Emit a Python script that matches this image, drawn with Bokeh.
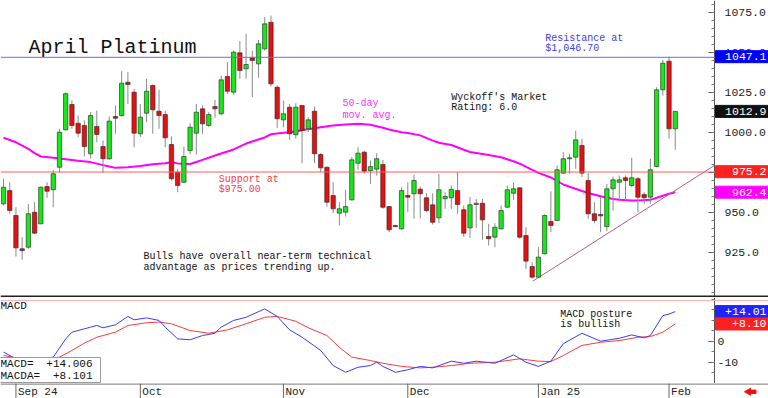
from math import pi
from bokeh.plotting import figure
from bokeh.layouts import column
from bokeh.models import (ColumnDataSource, FixedTicker, NumeralTickFormatter,
                          Range1d, Span, LinearAxis)
from bokeh.core.properties import value
from bokeh.embed import file_html
from bokeh.resources import INLINE

MONO = "Liberation Mono"

# ---------------- data ----------------
opens = [955.1, 963.4, 947.8, 927.0, 928.0, 949.9, 942.6, 965.9, 963.9, 978.0,
         1001.4, 1017.2, 1005.5, 1004.1, 986.4, 1003.5, 990.9, 983.3, 1009.7, 1010.3,
         1031.1, 1024.9, 998.9, 1011.8, 1029.1, 1013.0, 1010.9, 992.2, 974.9, 968.6,
         988.4, 999.3, 1014.5, 1004.1, 1015.9, 1011.4, 1034.7, 1024.9, 1049.5, 1039.5,
         1046.4, 1042.6, 1052.0, 1068.6, 1028.0, 1007.6, 1015.5, 998.3, 1016.6, 1002.0,
         1013.0, 985.9, 978.0, 960.3, 949.3, 949.9, 957.6, 980.5, 987.4, 975.9,
         976.8, 979.7, 953.4, 941.5, 939.5, 960.3, 961.4, 964.3, 958.9, 954.5,
         946.4, 958.3, 958.9, 963.4, 951.4, 940.1, 954.7, 955.5, 934.7, 934.3,
         939.5, 953.0, 961.8, 965.1, 935.3, 915.9, 909.3, 923.9, 944.1, 944.7,
         974.3, 983.3, 984.3, 991.6, 969.7, 948.9, 948.5, 940.9, 964.5, 968.6,
         971.4, 966.6, 970.8, 960.9, 959.3, 978.4, 1026.4, 1044.3, 1002.0]
highs = [970.8, 968.6, 953.0, 934.3, 955.1, 956.2, 965.9, 968.6, 976.4, 1002.0,
         1024.9, 1019.7, 1010.3, 1007.2, 1012.4, 1013.4, 994.7, 1009.7, 1016.6, 1038.0,
         1037.4, 1027.0, 1017.6, 1033.3, 1029.7, 1026.4, 1013.4, 997.2, 977.0, 990.9,
         1005.5, 1017.6, 1016.6, 1012.4, 1020.1, 1035.3, 1043.6, 1050.9, 1056.8, 1061.4,
         1050.9, 1057.6, 1071.8, 1072.8, 1029.1, 1019.7, 1017.6, 1018.0, 1016.6, 1009.3,
         1015.9, 986.8, 978.4, 968.6, 956.1, 963.9, 984.3, 990.5, 988.4, 982.2,
         986.8, 982.6, 953.4, 942.0, 965.5, 968.6, 973.4, 966.0, 961.7, 961.7,
         973.9, 962.4, 966.6, 974.9, 954.1, 959.3, 958.2, 958.2, 942.6, 943.0,
         954.1, 966.6, 968.6, 965.5, 940.5, 918.6, 928.0, 948.5, 963.0, 979.1,
         987.4, 986.4, 1000.9, 995.8, 974.3, 956.2, 959.3, 967.6, 972.2, 972.8,
         972.8, 983.9, 971.8, 962.4, 983.3, 1028.0, 1045.1, 1047.1, 1013.0]
lows = [954.1, 948.9, 922.2, 920.1, 927.0, 936.4, 942.6, 958.9, 953.0, 974.9,
        1000.9, 1002.0, 996.8, 984.7, 983.3, 993.6, 974.3, 982.6, 998.9, 1009.7,
        1017.6, 990.5, 997.0, 1006.1, 998.9, 1002.0, 990.5, 969.7, 962.4, 968.0,
        986.0, 986.0, 998.9, 1003.0, 1008.9, 1010.3, 1023.9, 1023.4, 1033.3, 1033.3,
        1021.8, 1033.9, 1050.9, 1028.4, 1002.6, 1003.0, 995.1, 995.8, 980.5, 999.9,
        980.5, 974.9, 953.4, 949.3, 941.6, 947.2, 957.2, 976.4, 973.9, 967.6,
        972.8, 952.0, 937.4, 940.5, 938.9, 949.9, 945.8, 946.0, 949.9, 942.2,
        943.0, 952.0, 952.0, 948.9, 934.3, 933.9, 940.1, 932.6, 929.1, 928.0,
        938.9, 952.6, 957.6, 933.3, 914.5, 908.3, 909.3, 923.5, 937.4, 944.3,
        973.9, 973.9, 977.0, 971.8, 945.8, 943.0, 937.4, 938.0, 950.9, 957.2,
        957.2, 965.5, 949.9, 955.1, 955.1, 978.0, 1022.8, 995.8, 988.9]
closes = [965.5, 950.9, 927.6, 925.9, 948.9, 936.8, 965.5, 963.0, 973.9, 999.9,
          1023.9, 1004.1, 999.3, 990.9, 1010.3, 998.5, 983.3, 1006.8, 1008.6, 1030.5,
          1029.7, 999.3, 1009.3, 1025.5, 1013.9, 1010.3, 996.4, 970.8, 966.6, 984.7,
          1003.0, 1012.4, 1005.1, 1010.9, 1014.5, 1032.6, 1025.5, 1049.9, 1038.4, 1042.2,
          1044.7, 1055.1, 1067.6, 1030.1, 1008.3, 1011.4, 998.9, 1015.5, 1001.0, 1007.6,
          986.4, 977.6, 956.1, 952.0, 952.0, 953.4, 982.6, 986.8, 975.5, 978.4,
          983.3, 953.0, 938.9, 940.9, 963.4, 959.3, 969.7, 961.4, 950.9, 943.6,
          963.9, 959.7, 964.1, 954.7, 936.8, 954.5, 955.5, 945.1, 933.3, 940.5,
          950.9, 963.9, 964.5, 934.3, 919.3, 909.3, 921.8, 947.8, 941.6, 976.4,
          983.3, 983.9, 995.1, 974.3, 948.9, 944.7, 947.6, 964.5, 970.1, 970.1,
          969.7, 971.4, 959.3, 958.9, 976.4, 1026.4, 1043.0, 1002.0, 1012.9]

# 50-day moving average (trading-day index, value)
ma_idx = [0, 2, 4, 5, 6, 8, 10, 12, 14, 16, 17, 18, 20, 22, 24, 26, 27, 28, 30, 31,
          32, 34, 36, 37, 39, 40, 42, 43, 45, 46, 48, 49, 51, 53, 55, 57, 59, 61, 62, 64,
          65, 67, 69, 70, 72, 74, 75, 78, 80, 82, 83, 85, 86, 88, 90, 91, 93, 94, 96, 98,
          99, 101, 102, 104, 106, 107, 108]
ma_val = [996.4, 993.6, 989.5, 986.8, 984.7, 983.9, 983.0, 982.0, 981.2, 979.3, 978.5,
          977.6, 978.0, 978.8, 979.9, 980.5, 981.1, 980.4, 980.0, 981.3, 982.6, 985.3,
          987.8, 989.1, 992.8, 994.1, 996.6, 998.6, 999.6, 999.9, 1001.1, 1001.8, 1003.0,
          1004.1, 1004.7, 1005.1, 1004.5, 1002.7, 1001.6, 999.8, 999.4, 997.9, 994.6,
          993.3, 991.9, 988.9, 987.5, 985.6, 984.2, 981.7, 980.2, 976.3, 974.5, 971.6,
          967.2, 965.8, 963.1, 961.9, 959.9, 958.1, 957.7, 957.2, 957.2, 957.6, 960.2,
          961.4, 962.4]

# MACD (blue) and its average (red)
macd_idx = [0, 2, 5, 8, 10, 11, 12, 14, 15, 16, 18, 20, 21, 23, 25, 26, 28, 30, 32, 34,
            35, 37, 39, 42, 44, 46, 48, 51, 53, 55, 57, 59, 60, 61, 63, 65, 67, 69, 72, 74,
            76, 79, 82, 84, 86, 88, 90, 93, 96, 99, 101, 103, 104, 106, 107, 108]
macd_val = [-5.3, -8.5, -9.5, -7.7, 1.0, 4.2, 5.0, 6.6, 7.4, 6.3, 7.7, 11.7, 10.1, 11.0,
            9.8, 6.6, 1.0, 0.6, 2.6, 3.7, 6.6, 9.8, 11.3, 15.3, 11.7, 5.3, 1.8, -4.5,
            -11.7, -14.9, -12.5, -11.7, -10.1, -12.1, -14.9, -13.7, -12.1, -12.8, -9.6,
            -10.6, -9.6, -10.6, -6.6, -10.1, -12.1, -9.6, -1.3, 3.7, -0.1, 1.3, 2.9, 1.5,
            2.6, 12.1, 12.8, 14.006]
sig_idx = [0, 4, 9, 11, 13, 15, 18, 20, 23, 25, 27, 30, 33, 36, 39, 42, 44, 47, 49, 52,
           54, 56, 59, 61, 64, 67, 69, 72, 75, 79, 83, 86, 88, 90, 93, 96, 99, 102, 104,
           106, 108]
sig_val = [-6.9, -9.0, -7.7, -4.5, -1.0, 1.8, 4.2, 7.4, 8.7, 9.0, 8.2, 5.0, 3.7, 5.3, 8.2,
           11.3, 11.7, 9.4, 6.3, 2.6, -3.0, -7.7, -9.3, -10.6, -12.1, -12.8, -12.5, -11.7,
           -10.6, -10.1, -8.5, -9.6, -9.8, -6.9, -2.1, -0.6, 0.2, 1.8, 2.1, 4.2, 8.101]

month_idx = [2, 22, 45, 65, 86, 107]
month_labels = ["Sep 24", "Oct", "Nov", "Dec", "Jan 25", "Feb"]
price_ticks = [925, 950, 975, 1000, 1025, 1050, 1075]
price_minor = [900 + 5 * k for k in range(37)]
macd_ticks = [-10, 0]
macd_minor = [-20, -15, -10, -5, 0, 5, 10, 15, 20]

resistance = 1046.7
resistance_tag = 1047.1
support = 975.0
support_tag = 975.2
trend_idx = [85.1, 114.3]
trend_val = [906.8, 979.1]

# ---------------- layout constants ----------------
W = 768
PX = 6.22                      # pixels per trading day
X0 = -3 / PX                   # left edge of the page
X1 = X0 + 714 / PX             # position of the price axis
X_EDGE = X0 + W / PX           # right edge of the page
PY = 1.6                       # price panel: pixels per dollar
MY = 2.1                       # macd panel: pixels per unit

n = len(closes)
idx = list(range(n))
up = [c >= o for o, c in zip(opens, closes)]
src = ColumnDataSource(dict(
    x=idx, high=highs, low=lows,
    top=[max(o, c) for o, c in zip(opens, closes)],
    bottom=[min(o, c) for o, c in zip(opens, closes)],
    color=["#18e818" if u else "#e81010" for u in up],
))

xr = Range1d(X0, X_EDGE)


def base_fig(h, yr):
    f = figure(width=W, height=h, x_range=xr, y_range=yr, output_backend="svg",
               toolbar_location=None, x_axis_location=None, y_axis_location=None,
               min_border_left=0, min_border_right=0, min_border_top=0,
               min_border_bottom=0)
    f.outline_line_color = None
    f.grid.visible = False
    return f


def style_axis(ax):
    ax.major_tick_in = 6
    ax.major_tick_out = 0
    ax.minor_tick_in = 3
    ax.minor_tick_out = 0
    ax.axis_line_color = "#555555"
    ax.major_tick_line_color = "#555555"
    ax.minor_tick_line_color = "#777777"
    ax.major_label_text_font = MONO
    ax.major_label_text_font_size = "11.5px"
    ax.major_label_text_color = "#222222"


def tag(fig, yv, text, bg, unit):
    r = fig.rect(x=[(X1 + X_EDGE) / 2 + 0.5 / PX], y=[yv], width=X_EDGE - X1 - 1 / PX,
                 height=12 / unit, fill_color=bg, line_color=bg)
    r.level = "overlay"
    t = fig.text(x=[X_EDGE - 2 / PX], y=[yv], text=[text], text_font=value(MONO),
                 text_font_size="11.5px", text_color="white", text_align="right",
                 text_baseline="middle")
    t.level = "overlay"


def txt(fig, x, y, lines, color, dy, size="10px"):
    fig.text(x=[x] * len(lines), y=[y - k * dy for k in range(len(lines))], text=lines,
             text_font=value(MONO), text_font_size=size, text_color=color,
             text_align="left", text_baseline="middle")


# ---------------- price panel ----------------
p = base_fig(297, Range1d(1082.2 - 297 / PY, 1082.2))
ya = LinearAxis(fixed_location=X1,
                ticker=FixedTicker(ticks=price_ticks, minor_ticks=price_minor),
                formatter=NumeralTickFormatter(format="0.0"))
style_axis(ya)
ya.major_label_standoff = 10
p.add_layout(ya, "right")

p.add_layout(Span(location=resistance, dimension="width", line_color="#6a6af2", line_width=1))
p.add_layout(Span(location=support, dimension="width", line_color="#ff5a5a", line_width=1))
p.add_layout(Span(location=1082.2 - 296 / PY, dimension="width", line_color="#222222",
                  line_width=2))

p.line(ma_idx, ma_val, line_color="#ff00ff", line_width=2)
p.line(trend_idx, trend_val, line_color="#b0608a", line_width=1)

p.segment(x0="x", y0="low", x1="x", y1="high", source=src, line_color="#8a8a8a", line_width=1)
p.vbar(x="x", width=0.7, top="top", bottom="bottom", source=src,
       fill_color="color", line_color="#202020", line_width=0.6)

p.text(x=[4.0], y=[1053.0], text=["April Platinum"], text_font=value(MONO),
       text_font_size="20px", text_color="#111111", text_align="left",
       text_baseline="alphabetic")
txt(p, 87.1, 1058.6, ["Resistance at", "$1,046.70"], "#4040f0", 6.2)
txt(p, 72.0, 1021.8, ["Wyckoff's Market", "Rating: 6.0"], "#111111", 6.2)
txt(p, 54.5, 1017.6, ["50-day", "mov. avg."], "#ff30ff", 7.3)
txt(p, 34.6, 970.1, ["Support at", "$975.00"], "#ff3c3c", 6.2)
txt(p, 22.5, 922.2, ["Bulls have overall near-term technical",
                     "advantage as prices trending up."], "#111111", 6.7)

tag(p, resistance_tag, f"{resistance_tag:.1f}", "#0000ff", PY)
tag(p, closes[-1], f"{closes[-1]:.1f}", "#111111", PY)
tag(p, support_tag, f"{support_tag:.1f}", "#ff2020", PY)
tag(p, ma_val[-1], f"{ma_val[-1]:.1f}", "#ff00ff", PY)

# ---------------- MACD panel ----------------
m_top = 43.5 / MY
m = base_fig(86, Range1d(m_top - 86 / MY, m_top))
mx = LinearAxis(fixed_location=X1,
                ticker=FixedTicker(ticks=macd_ticks, minor_ticks=macd_minor),
                major_label_overrides={0: "  0", -10: "-10"})
style_axis(mx)
mx.major_label_standoff = 3
m.add_layout(mx, "right")

m.add_layout(Span(location=m_top - 3 / MY, dimension="width", line_color="#ffb4b4",
                  line_width=1))
m.line(sig_idx, sig_val, line_color="#ff3a3a", line_width=1)
m.line(macd_idx, macd_val, line_color="#3b3bff", line_width=1)

m.quad(left=[X0 - 0.2], right=[X0 + 100 / PX], bottom=[m_top - 85 / MY],
       top=[m_top - 60 / MY], fill_color="white", line_color="#9a9a9a", line_width=1)
m.text(x=[X0, X0], y=[m_top - 66 / MY, m_top - 78 / MY], text=["MACD=", "MACDA="],
       text_font=value(MONO), text_font_size="11px", text_color="#111111",
       text_align="left", text_baseline="middle")
m.text(x=[X0 + 92 / PX] * 2, y=[m_top - 66 / MY, m_top - 78 / MY],
       text=[f"{macd_val[-1]:+.3f}", f"{sig_val[-1]:+.3f}"],
       text_font=value(MONO), text_font_size="11px", text_color="#111111",
       text_align="right", text_baseline="middle")
m.text(x=[X0], y=[m_top - 8 / MY], text=["MACD"], text_font=value(MONO),
       text_font_size="11px", text_color="#111111", text_align="left",
       text_baseline="middle")
txt(m, 89.5, 12.6, ["MACD posture", "is bullish"], "#111111", 4.8)

tag(m, macd_val[-1], f"{macd_val[-1]:+.2f}", "#2323ff", MY)
tag(m, sig_val[-1], f"{sig_val[-1]:+.2f}", "#ff2020", MY)

# ---------------- date strip ----------------
d = base_fig(15, Range1d(0, 1))
d.add_layout(Span(location=0.97, dimension="width", line_color="#444444", line_width=1))
d.segment(x0=month_idx, y0=[0] * len(month_idx), x1=month_idx, y1=[1] * len(month_idx),
          line_color="#666666", line_width=1)
d.text(x=month_idx, y=[0.45] * len(month_idx), text=month_labels, x_offset=2,
       text_font=value(MONO), text_font_size="11px", text_color="#222222",
       text_align="left", text_baseline="middle")
d.scatter(x=[X0 + 748 / PX], y=[0.45], marker="triangle", angle=pi / 2, size=7,
          fill_color="#ee1111", line_color="#ee1111")
d.rect(x=[X0 + 753 / PX], y=[0.45], width=5 / PX, height=0.22, fill_color="#ee1111",
       line_color="#ee1111")

layout = column(p, m, d, spacing=0)
open("out.html", "w").write(file_html(layout, INLINE))
